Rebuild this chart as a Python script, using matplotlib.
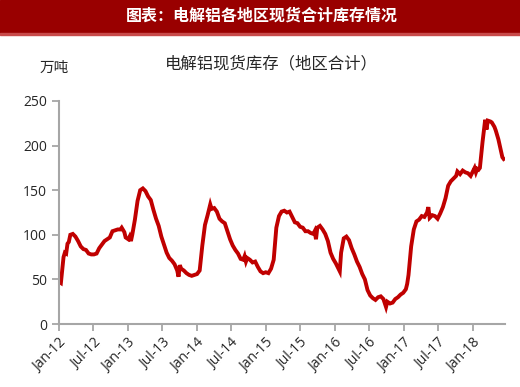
import matplotlib
matplotlib.use('Agg')

import matplotlib.pyplot as plt
import matplotlib.dates as mdates
from matplotlib.patches import Rectangle
import pandas as pd

plt.rcParams['font.family'] = ['Open Sans', 'Noto Sans CJK SC', 'DejaVu Sans']

dates = [
    '2012-01-04', '2012-01-11', '2012-01-18', '2012-01-25', '2012-02-01', '2012-02-08',
    '2012-02-15', '2012-02-22', '2012-03-01', '2012-03-14', '2012-03-28', '2012-04-11',
    '2012-04-25', '2012-05-09', '2012-05-23', '2012-06-06', '2012-06-20', '2012-07-04',
    '2012-07-18', '2012-08-01', '2012-08-15', '2012-08-29', '2012-09-12', '2012-09-26',
    '2012-10-10', '2012-10-24', '2012-11-07', '2012-11-21', '2012-11-28', '2012-12-12',
    '2012-12-19', '2013-01-02', '2013-01-09', '2013-01-16', '2013-01-23', '2013-02-06',
    '2013-02-20', '2013-03-06', '2013-03-20', '2013-04-03', '2013-04-17', '2013-05-01',
    '2013-05-15', '2013-05-29', '2013-06-12', '2013-06-26', '2013-07-10', '2013-07-24',
    '2013-08-07', '2013-08-21', '2013-09-04', '2013-09-18', '2013-09-25', '2013-10-02',
    '2013-10-09', '2013-10-23', '2013-11-06', '2013-11-20', '2013-12-04', '2013-12-18',
    '2014-01-01', '2014-01-15', '2014-01-29', '2014-02-12', '2014-02-26', '2014-03-12',
    '2014-03-19', '2014-04-02', '2014-04-16', '2014-04-30', '2014-05-14', '2014-05-28',
    '2014-06-11', '2014-06-25', '2014-07-09', '2014-07-23', '2014-08-06', '2014-08-20',
    '2014-09-03', '2014-09-10', '2014-09-17', '2014-09-24', '2014-10-08', '2014-10-22',
    '2014-11-05', '2014-11-19', '2014-12-03', '2014-12-17', '2014-12-31', '2015-01-14',
    '2015-01-28', '2015-02-11', '2015-02-25', '2015-03-11', '2015-03-25', '2015-04-08',
    '2015-04-22', '2015-05-06', '2015-05-20', '2015-06-03', '2015-06-17', '2015-07-01',
    '2015-07-15', '2015-07-29', '2015-08-12', '2015-08-26', '2015-09-09', '2015-09-16',
    '2015-09-23', '2015-09-30', '2015-10-14', '2015-10-28', '2015-11-11', '2015-11-25',
    '2015-12-09', '2015-12-23', '2016-01-06', '2016-01-20', '2016-01-27', '2016-02-03',
    '2016-02-17', '2016-03-02', '2016-03-16', '2016-03-30', '2016-04-13', '2016-04-27',
    '2016-05-11', '2016-05-25', '2016-06-08', '2016-06-22', '2016-07-06', '2016-07-20',
    '2016-08-03', '2016-08-17', '2016-08-31', '2016-09-14', '2016-09-28', '2016-10-05',
    '2016-10-19', '2016-11-02', '2016-11-16', '2016-11-30', '2016-12-14', '2016-12-28',
    '2017-01-11', '2017-01-18', '2017-01-25', '2017-02-08', '2017-02-22', '2017-03-08',
    '2017-03-22', '2017-04-05', '2017-04-19', '2017-05-03', '2017-05-10', '2017-05-17',
    '2017-05-31', '2017-06-14', '2017-06-28', '2017-07-12', '2017-07-26', '2017-08-09',
    '2017-08-23', '2017-09-06', '2017-09-20', '2017-10-04', '2017-10-11', '2017-10-25',
    '2017-11-08', '2017-11-22', '2017-12-06', '2017-12-20', '2018-01-03', '2018-01-10',
    '2018-01-17', '2018-01-24', '2018-01-31', '2018-02-07', '2018-02-21', '2018-03-07',
    '2018-03-14', '2018-03-21', '2018-04-04', '2018-04-11', '2018-04-25', '2018-05-02',
    '2018-05-16', '2018-05-30', '2018-06-06', '2018-06-13',
]

stock = [
    47, 46, 60, 75, 80, 79,
    90, 92, 100, 101, 98, 93,
    87, 84, 83, 79, 78, 78,
    79, 85, 89, 93, 95, 97,
    104, 105, 106, 106, 108, 103,
    97, 95, 98, 93, 100, 117,
    138, 150, 152, 149, 143, 139,
    128, 118, 110, 98, 89, 80,
    74, 71, 67, 60, 53, 66,
    62, 60, 57, 55, 54, 55,
    56, 60, 88, 111, 122, 134,
    129, 130, 126, 118, 115, 113,
    104, 95, 88, 83, 79, 73,
    72, 76, 70, 74, 72, 69,
    70, 64, 59, 57, 58, 57,
    62, 72, 108, 121, 126, 127,
    125, 126, 120, 114, 113, 109,
    108, 104, 104, 102, 101, 104,
    95, 108, 110, 106, 101, 93,
    80, 73, 68, 62, 59, 80,
    96, 98, 94, 85, 78, 70,
    64, 56, 50, 38, 32, 29,
    27, 30, 31, 28, 19, 25,
    23, 24, 28, 30, 33, 35,
    39, 45, 55, 87, 106, 115,
    117, 121, 120, 125, 131, 119,
    122, 121, 118, 124, 131, 141,
    155, 160, 163, 166, 171, 168,
    172, 170, 169, 166, 172, 175,
    170, 174, 173, 175, 204, 229,
    218, 228, 227, 226, 221, 217,
    207, 194, 187, 185,
]

yticks = [0, 50, 100, 150, 200, 250]

t = pd.to_datetime(dates)

fig = plt.figure(figsize=(5.2, 3.87), dpi=100)
fig.patches.append(Rectangle((0, 1 - 33 / 387), 1, 33 / 387, transform=fig.transFigure,
                             color='#990000', zorder=0))
fig.patches.append(Rectangle((0, 1 - 35 / 387), 1, 2 / 387, transform=fig.transFigure,
                             color='#C84A4A', zorder=0))
fig.text(262 / 520, 1 - 16 / 387, '图表：电解铝各地区现货合计库存情况', color='white',
         fontsize=11.5, fontweight='bold', ha='center', va='center',
         family=['Noto Sans CJK SC', 'DejaVu Sans'])

ax = fig.add_axes([59 / 520, 63 / 387, 446 / 520, 223 / 387])
ax.plot(t, stock, color='#C00000', lw=2.8, solid_joinstyle='miter')

ax.set_ylim(0, 250)
ax.set_yticks(yticks)
ax.set_xlim(pd.Timestamp('2012-01-01'), pd.Timestamp('2018-06-20'))
ax.xaxis.set_major_locator(mdates.MonthLocator(bymonth=[1, 7]))
ax.xaxis.set_major_formatter(mdates.DateFormatter('%b-%y'))
plt.setp(ax.get_xticklabels(), rotation=45, ha='right', rotation_mode='anchor')

for side in ['top', 'right']:
    ax.spines[side].set_visible(False)
for side in ['left', 'bottom']:
    ax.spines[side].set_color('#A6A6A6')
    ax.spines[side].set_linewidth(1.5)
ax.tick_params(axis='both', colors='#A6A6A6', width=1.3, length=5, labelsize=10,
               labelcolor='#262626')

fig.text(54 / 520, 1 - 68 / 387, '万吨', fontsize=10.5, ha='center', va='center',
         color='#262626', family=['Noto Sans CJK SC', 'DejaVu Sans'])
fig.text(271 / 520, 1 - 64 / 387, '电解铝现货库存（地区合计）', fontsize=11.8,
         ha='center', va='center', color='#262626',
         family=['Noto Sans CJK SC', 'DejaVu Sans'])

plt.savefig('out.png', dpi=100)
plt.close(fig)
